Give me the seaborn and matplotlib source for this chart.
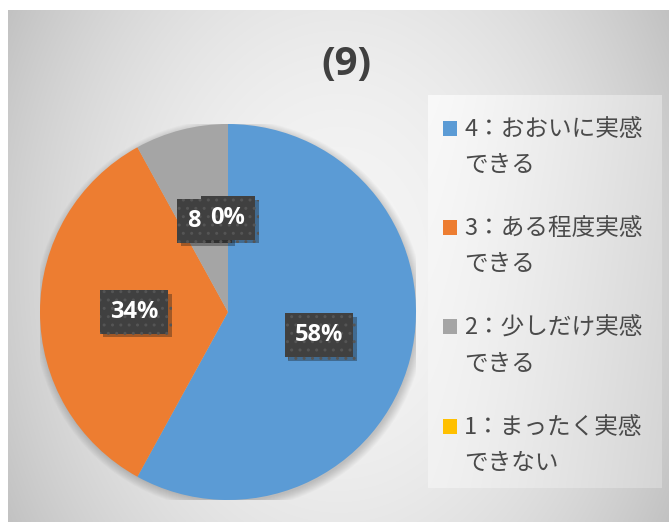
import numpy as np
import matplotlib
matplotlib.use("Agg")
import matplotlib.pyplot as plt
import matplotlib.patheffects as pe
from matplotlib.legend_handler import HandlerPatch
from matplotlib.patches import Rectangle
import seaborn as sns

# ---- data ----
title = "(9)"
categories = ["4：おおいに実感\nできる", "3：ある程度実感\nできる",
              "2：少しだけ実感\nできる", "1：まったく実感\nできない"]
values = [58, 34, 8, 0]
colors = ["#5B9BD5", "#ED7D31", "#A5A5A5", "#FFC000"]

sns.set_theme(style="white")
plt.rcParams["font.family"] = ["Noto Sans CJK JP", "DejaVu Sans"]

W, H = 669, 522
fig = plt.figure(figsize=(W / 100, H / 100), dpi=100)
fig.patch.set_facecolor("white")

# background panel with radial-ish gradient
bg = fig.add_axes([8 / W, 0, (W - 8) / W, (H - 10) / H])
ph, pw = H - 10, W - 8
yy, xx = np.mgrid[0:ph, 0:pw]
rx = (xx - pw * 0.5) / (pw * 0.5)
ry = (yy - ph * 0.5) / (ph * 0.5)
val = 0.96 - 0.2 * (rx ** 2 * 0.75 + ry ** 2 * 0.25)
bg.imshow(np.dstack([val] * 3), aspect="auto", extent=(0, 1, 0, 1), interpolation="bilinear")
bg.set_axis_off()

# legend box with gradient
lx0, ly0, lw, lh = 428, 34, 234, 393
lg = fig.add_axes([lx0 / W, ly0 / H, lw / W, lh / H])
yy2, xx2 = np.mgrid[0:lh, 0:lw]
xn = xx2 / lw
yn = yy2 / lh
val2 = 0.975 - 0.11 * xn ** 1.3 - 0.03 * yn
lg.imshow(np.dstack([np.clip(val2, 0, 1)] * 3), aspect="auto", extent=(0, 1, 0, 1),
          interpolation="bilinear")
lg.set_axis_off()

# pie
cx, cy, R = 228, 522 - 312, 188
ax = fig.add_axes([(cx - R) / W, (cy - R) / H, 2 * R / W, 2 * R / H])
ax.set_facecolor("none")

# soft shadow
for i in range(10):
    ax.add_patch(plt.Circle((0.008, -0.014), 0.995 + 0.005 * i, color="black",
                            alpha=0.02, lw=0, zorder=0))

wedges, texts, autotexts = ax.pie(
    values, colors=colors, startangle=90, counterclock=False,
    autopct=lambda p: f"{p:.0f}%", pctdistance=0.5, radius=1.0,
    wedgeprops=dict(linewidth=0),
    textprops=dict(color="white", fontsize=17, fontweight="bold",
                   family=["Open Sans", "DejaVu Sans"]))
for w in wedges:
    w.set_zorder(2)
for t in autotexts:
    t.set_zorder(5)
    t.set_bbox(dict(boxstyle="square,pad=0.42", facecolor="#404040",
                    edgecolor="#555555", hatch="..", linewidth=0))
    t.get_bbox_patch().set_path_effects(
        [pe.SimplePatchShadow(offset=(2.5, -2.5), alpha=0.35), pe.Normal()])
ax.set_xlim(-1, 1)
ax.set_ylim(-1, 1)
ax.set_aspect("equal")
ax.set_axis_off()

# title
fig.text(346 / W, 1 - 65 / H, title, ha="center", va="center", fontsize=29,
         fontweight="bold", color="#404040", family=["Open Sans", "DejaVu Sans"])

# legend: square handle aligned with first text line
LINE_SHIFT = 20 * 72 / 100  # points


def top_square(legend, orig_handle, xdescent, ydescent, width, height, fontsize):
    return Rectangle((-xdescent, -ydescent + LINE_SHIFT), width, height)


leg = fig.legend(wedges, categories, loc="upper left",
                 bbox_to_anchor=(443 / W, 1 - 118 / H), frameon=False,
                 fontsize=17, handlelength=0.6, handleheight=0.6,
                 handletextpad=0.3, labelspacing=1.7, borderpad=0, borderaxespad=0,
                 labelcolor="#4a4a4a",
                 handler_map={w: HandlerPatch(patch_func=top_square) for w in wedges})
for t in leg.get_texts():
    t.set_linespacing(1.73)

fig.savefig("out.png", dpi=100, facecolor="white")
